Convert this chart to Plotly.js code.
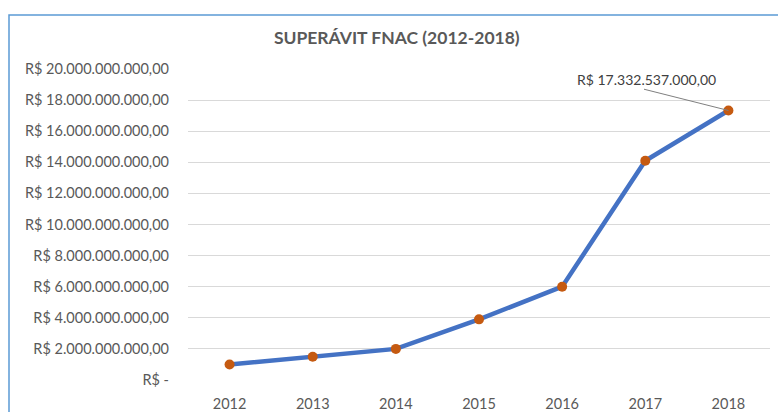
<!DOCTYPE html>
<html>
<head>
<meta charset="utf-8">
<script src="https://cdn.plot.ly/plotly-3.0.1.min.js"></script>
<style>html,body{margin:0;padding:0;background:#fff;}#chart{width:778px;height:412px;}</style>
</head>
<body>
<div id="chart"></div>
<script>
const years = ["2012", "2013", "2014", "2015", "2016", "2017", "2018"];
const superavit = [1.0e9, 1.5e9, 2.0e9, 3.9e9, 6.0e9, 14.1e9, 17332537000];
const yTickVals = [0, 2e9, 4e9, 6e9, 8e9, 10e9, 12e9, 14e9, 16e9, 18e9, 20e9];
const yTickText = ["R$ -", "R$ 2.000.000.000,00", "R$ 4.000.000.000,00", "R$ 6.000.000.000,00",
  "R$ 8.000.000.000,00", "R$ 10.000.000.000,00", "R$ 12.000.000.000,00", "R$ 14.000.000.000,00",
  "R$ 16.000.000.000,00", "R$ 18.000.000.000,00", "R$ 20.000.000.000,00"];
const labelText = "R$ 17.332.537.000,00";

const W = 778, H = 412;
const m = {l: 188, r: 8, t: 69, b: 32};
const pw = W - m.l - m.r, ph = H - m.t - m.b;
const px = x => (x - m.l) / pw;
const py = y => (H - m.b - y) / ph;

const font = "Lato, 'Open Sans', sans-serif";
const last = years.length - 1;

Plotly.newPlot('chart', [{
  x: years, y: superavit, type: 'scatter', mode: 'lines+markers',
  line: {color: '#4472C4', width: 4.5},
  marker: {color: '#C55A11', size: 10},
  hoverinfo: 'skip'
}], {
  width: W, height: H,
  margin: m,
  paper_bgcolor: '#fff', plot_bgcolor: '#fff',
  showlegend: false,
  font: {family: font, size: 14.5, color: '#595959'},
  title: {text: '<b>SUPERÁVIT FNAC (2012-2018)</b>', x: 0.51, xanchor: 'center', y: 1 - 38/H, yanchor: 'middle',
    font: {family: font, size: 17.5, color: '#595959'}},
  xaxis: {type: 'category', range: [-0.5, 6.5], showgrid: false, zeroline: false, showline: false,
    ticks: '', tickfont: {size: 14.5, color: '#595959'}, ticklabelstandoff: 13},
  yaxis: {range: [0, 20e9], tickvals: yTickVals, ticktext: yTickText, showgrid: true,
    gridcolor: '#D9D9D9', gridwidth: 1, zeroline: false, showline: false, ticks: '',
    ticklabelstandoff: 18, tickfont: {size: 14.5, color: '#595959'}},
  shapes: [
    {type: 'rect', xref: 'paper', yref: 'paper', x0: px(9), x1: px(800), y0: py(440), y1: py(15),
     line: {color: '#5B9BD5', width: 1.5}, fillcolor: 'rgba(0,0,0,0)', layer: 'below'},
    {type: 'line', xref: 'paper', yref: 'y', x0: px(644), x1: (last + 0.5) / 7, y0: 18.7e9, y1: superavit[last],
     line: {color: '#7F7F7F', width: 1}}
  ],
  annotations: [{
    x: px(646), xref: 'paper', y: 19.3e9, yref: 'y', text: labelText, showarrow: false,
    xanchor: 'center', yanchor: 'middle', font: {family: font, size: 14, color: '#404040'}
  }]
}, {displayModeBar: false, staticPlot: true});
</script>
</body>
</html>
